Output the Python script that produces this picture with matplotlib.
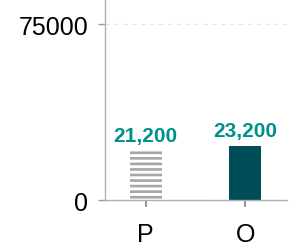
import matplotlib.pyplot as plt

plt.rcParams['font.family'] = ['Liberation Sans', 'DejaVu Sans']
plt.rcParams['hatch.linewidth'] = 1.9
plt.rcParams['hatch.color'] = '#a6a6a6'

categories = ["P", "O"]
values = [21200, 23200]
labels = ["21,200", "23,200"]
yticks = [0, 75000]

fig = plt.figure(figsize=(2.98, 2.53), dpi=100)
ax = fig.add_axes([0.352, 0.2055, 0.611, 0.7945])

x = range(len(categories))
bars = ax.bar(x, values, width=0.32)
bars[0].set_facecolor("white")
bars[0].set_hatch("---")
bars[0].set_edgecolor("#a6a6a6")
bars[0].set_linewidth(0)
bars[1].set_facecolor("#004d5a")
bars[1].set_linewidth(0)

for xi, v, lab in zip(x, values, labels):
    ax.annotate(lab, (xi, v), xytext=(0, 4), textcoords="offset points",
                ha="center", va="bottom", fontsize=15, fontweight="bold",
                color="#00908a")

ax.set_xlim(-0.41, 1.42)
ax.set_ylim(0, 85700)
ax.set_yticks(yticks)
ax.set_yticklabels([str(t) for t in yticks], fontsize=18)
ax.set_xticks(list(x))
ax.set_xticklabels(categories, fontsize=18)
ax.yaxis.grid(True, linestyle=(0, (4, 4)), color="#e6e6e6", linewidth=0.8)
ax.set_axisbelow(True)

for s in ["top", "right"]:
    ax.spines[s].set_visible(False)
for s in ["left", "bottom"]:
    ax.spines[s].set_color("#b0b0b0")
    ax.spines[s].set_linewidth(1.0)
ax.tick_params(axis="y", length=5, width=1, color="#999999", pad=7)
ax.tick_params(axis="x", length=5, width=1.5, color="#999999", pad=11)

fig.savefig("out.png", dpi=100)
